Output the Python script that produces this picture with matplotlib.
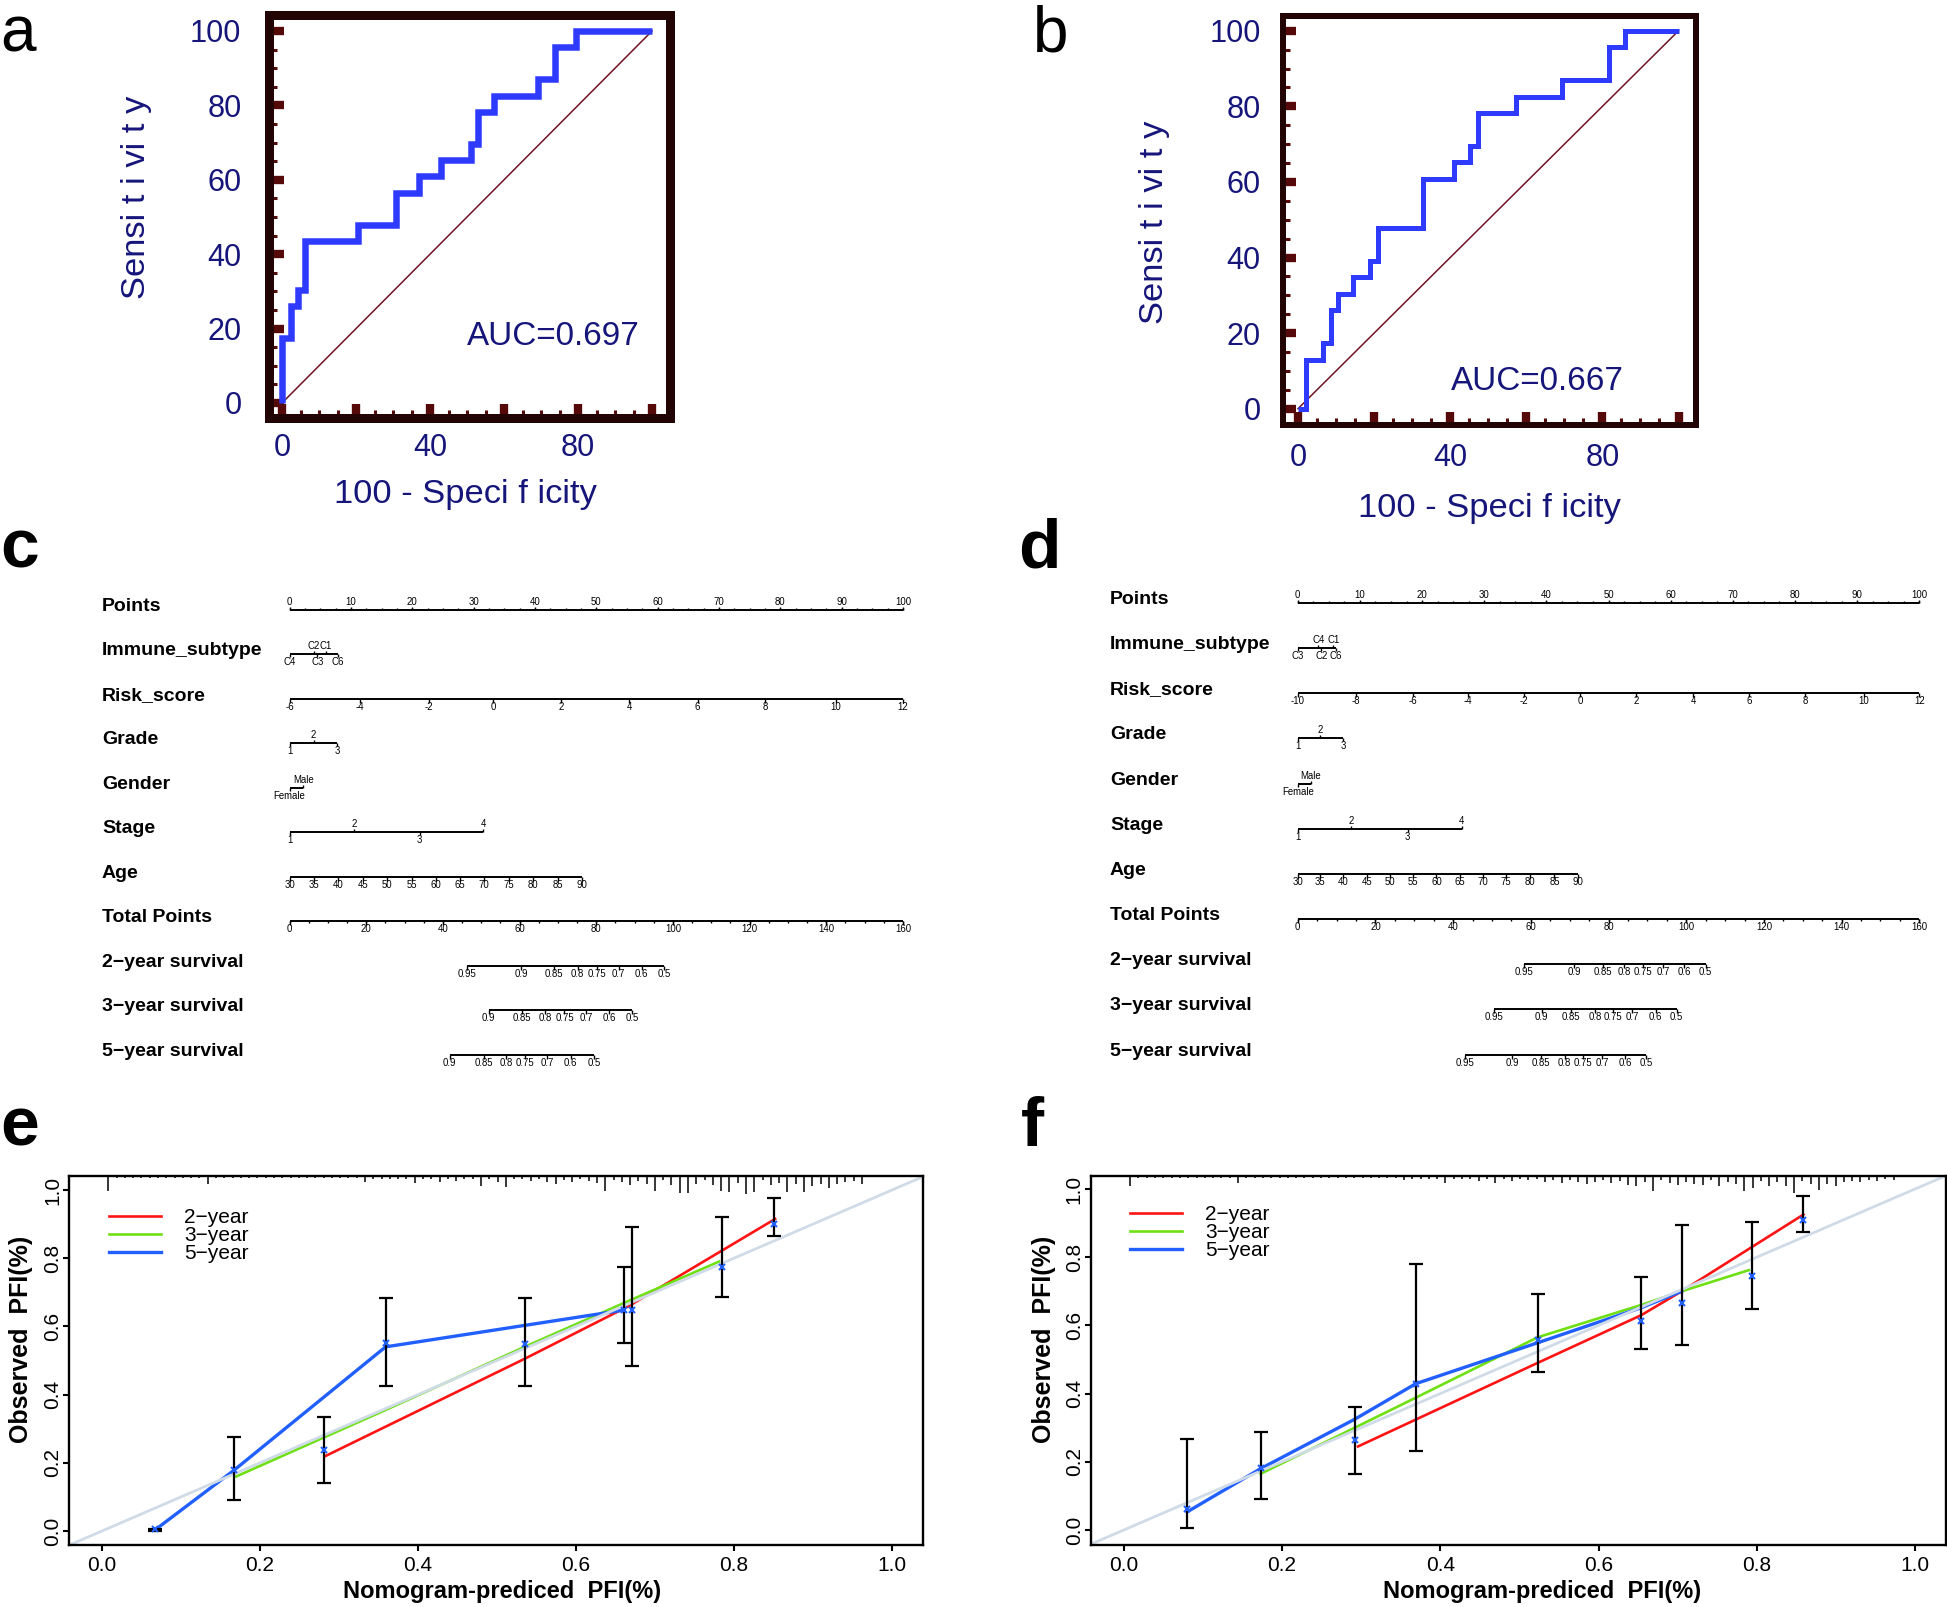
import numpy as np
import matplotlib
matplotlib.use('Agg')
import matplotlib.pyplot as plt
from matplotlib import font_manager as fm
from matplotlib import transforms as mtrans
from matplotlib.ticker import MultipleLocator


def _has(name):
    try:
        fm.findfont(fm.FontProperties(family=name), fallback_to_default=False)
        return True
    except Exception:
        return False


SANS = 'Liberation Sans' if _has('Liberation Sans') else 'DejaVu Sans'
HAS_NARROW = _has('Liberation Sans Narrow')
NARROW = 'Liberation Sans Narrow' if HAS_NARROW else SANS
NS = 1.0 if HAS_NARROW else 0.92
plt.rcParams['font.family'] = [SANS, 'DejaVu Sans']

# ====================== DATA ======================
# (a), (b) ROC curves (100 - specificity, sensitivity)
roc_a_fpr = [0, 0, 2.5, 4.3, 6.3, 20.6, 30.8, 37.1, 43.1, 51.1, 53.1, 57.3, 69.3, 73.7, 79.5, 100]
roc_a_tpr = [0, 17.4, 26.1, 30.4, 43.5, 47.8, 56.5, 60.9, 65.2, 69.6, 78.3, 82.6, 87.0, 95.7, 100, 100]
roc_a_auc = 0.697
roc_b_fpr = [0, 2.1, 6.6, 8.6, 10.6, 14.4, 18.9, 20.9, 32.9, 41.0, 45.3, 47.2, 57.4, 69.5, 81.8, 85.9, 100]
roc_b_tpr = [0, 13.0, 17.4, 26.1, 30.4, 34.8, 39.1, 47.8, 60.9, 65.2, 69.6, 78.3, 82.6, 87.0, 95.7, 100, 100]
roc_b_auc = 0.667
roc_ticks = [0, 20, 40, 60, 80, 100]
roc_xticklabels = ['0', '', '40', '', '80', '']
roc_yticklabels = ['0', '20', '40', '60', '80', '100']

# (c), (d) nomograms
row_names = ['Points', 'Immune_subtype', 'Risk_score', 'Grade', 'Gender', 'Stage', 'Age',
             'Total Points', '2\u2212year survival', '3\u2212year survival', '5\u2212year survival']
points_ticks = [0, 10, 20, 30, 40, 50, 60, 70, 80, 90, 100]
total_ticks = [0, 20, 40, 60, 80, 100, 120, 140, 160]
age_labels = [30, 35, 40, 45, 50, 55, 60, 65, 70, 75, 80, 85, 90]

c_immune_lab = ['C4', 'C2', 'C3', 'C1', 'C6']
c_immune_pts = [0, 4.0, 4.5, 5.9, 7.9]
c_risk_lab = [-6, -4, -2, 0, 2, 4, 6, 8, 10, 12]
c_risk_pts = [0, 11.4, 22.7, 33.2, 44.3, 55.4, 66.5, 77.5, 89.0, 100]
c_grade_lab = ['1', '2', '3']
c_grade_pts = [0, 3.9, 7.7]
c_gender_lab = ['Female', 'Male']
c_gender_pts = [0, 2.2]
c_stage_lab = ['1', '2', '3', '4']
c_stage_pts = [0, 10.5, 21.2, 31.6]
c_age_pts = [0, 3.9, 7.9, 11.9, 15.9, 19.9, 23.8, 27.7, 31.7, 35.7, 39.7, 43.7, 47.7]
c_s2_lab = [0.95, 0.9, 0.85, 0.8, 0.75, 0.7, 0.6, 0.5]
c_s2_tot = [46.3, 60.4, 69.0, 75.1, 80.2, 85.8, 91.8, 97.7]
c_s3_lab = [0.9, 0.85, 0.8, 0.75, 0.7, 0.6, 0.5]
c_s3_tot = [51.9, 60.7, 66.6, 71.7, 77.3, 83.4, 89.4]
c_s5_lab = [0.9, 0.85, 0.8, 0.75, 0.7, 0.6, 0.5]
c_s5_tot = [41.8, 50.6, 56.4, 61.5, 67.1, 73.3, 79.4]

d_immune_lab = ['C3', 'C4', 'C2', 'C1', 'C6']
d_immune_pts = [0, 3.3, 3.8, 5.7, 6.1]
d_risk_lab = [-10, -8, -6, -4, -2, 0, 2, 4, 6, 8, 10, 12]
d_risk_pts = [0, 9.4, 18.5, 27.4, 36.4, 45.4, 54.4, 63.6, 72.6, 81.6, 91.1, 100]
d_grade_lab = ['1', '2', '3']
d_grade_pts = [0, 3.6, 7.3]
d_gender_lab = ['Female', 'Male']
d_gender_pts = [0, 2.1]
d_stage_lab = ['1', '2', '3', '4']
d_stage_pts = [0, 8.6, 17.7, 26.4]
d_age_pts = [0, 3.6, 7.3, 11.1, 14.8, 18.5, 22.3, 26.1, 29.8, 33.5, 37.3, 41.3, 45.1]
d_s2_lab = [0.95, 0.9, 0.85, 0.8, 0.75, 0.7, 0.6, 0.5]
d_s2_tot = [58.2, 71.1, 78.5, 84.0, 88.9, 94.1, 99.5, 105.0]
d_s3_lab = [0.95, 0.9, 0.85, 0.8, 0.75, 0.7, 0.6, 0.5]
d_s3_tot = [50.5, 62.8, 70.3, 76.5, 81.2, 86.1, 92.1, 97.5]
d_s5_lab = [0.95, 0.9, 0.85, 0.8, 0.75, 0.7, 0.6, 0.5]
d_s5_tot = [43.1, 55.2, 62.5, 68.7, 73.4, 78.4, 84.3, 89.7]

# (e), (f) calibration curves
calib_labels = ['2\u2212year', '3\u2212year', '5\u2212year']
calib_ticks = [0.0, 0.2, 0.4, 0.6, 0.8, 1.0]

e_2y_x = [0.283, 0.535, 0.667, 0.852]
e_2y_y = [0.220, 0.505, 0.660, 0.915]
e_3y_x = [0.170, 0.359, 0.535, 0.667, 0.781]
e_3y_y = [0.160, 0.355, 0.540, 0.675, 0.790]
e_5y_x = [0.067, 0.167, 0.359, 0.661]
e_5y_y = [0.003, 0.178, 0.540, 0.648]
e_eb_x = [0.067, 0.167, 0.281, 0.359, 0.535, 0.661, 0.671, 0.785, 0.851]
e_eb_y = [0.005, 0.178, 0.239, 0.551, 0.547, 0.649, 0.649, 0.775, 0.901]
e_eb_lo = [0.000, 0.090, 0.142, 0.425, 0.425, 0.551, 0.485, 0.687, 0.864]
e_eb_hi = [0.005, 0.277, 0.335, 0.684, 0.684, 0.773, 0.891, 0.920, 0.976]
e_rug_range = (0.008, 0.962)
e_rug_h = [15, 2, 2, 2, 2, 2, 2, 2, 2, 2, 2, 2, 8,
           2, 2, 2, 2, 2, 2, 2, 2, 2, 2, 2, 2, 2, 2, 2, 2, 2, 2,
           6, 3, 3, 3, 3, 3, 7, 3, 3, 6, 3, 5, 3, 3, 10, 3, 6, 11,
           3, 3, 5, 3, 6, 8, 4, 6, 3, 5, 7, 15, 4, 6, 9, 5, 8, 15, 4, 9, 17, 17, 8, 4, 9,
           15, 16, 7, 18, 16, 4, 9, 7, 16, 8, 16, 10, 8, 12, 8, 6, 5, 8]

f_2y_x = [0.296, 0.523, 0.654, 0.705, 0.859]
f_2y_y = [0.245, 0.490, 0.630, 0.700, 0.925]
f_3y_x = [0.173, 0.292, 0.369, 0.523, 0.654, 0.705, 0.790]
f_3y_y = [0.165, 0.300, 0.388, 0.565, 0.660, 0.700, 0.762]
f_5y_x = [0.080, 0.173, 0.292, 0.369, 0.523, 0.654, 0.705]
f_5y_y = [0.053, 0.180, 0.325, 0.429, 0.549, 0.652, 0.700]
f_eb_x = [0.080, 0.173, 0.292, 0.369, 0.523, 0.654, 0.705, 0.794, 0.859]
f_eb_y = [0.063, 0.183, 0.265, 0.429, 0.558, 0.614, 0.665, 0.746, 0.908]
f_eb_lo = [0.005, 0.092, 0.163, 0.231, 0.463, 0.532, 0.542, 0.648, 0.874]
f_eb_hi = [0.267, 0.286, 0.362, 0.780, 0.692, 0.741, 0.895, 0.903, 0.979]
f_rug_range = (0.008, 0.973)
f_rug_h = [10, 2, 2, 2, 2, 2, 2, 2, 2, 2, 2, 2, 2, 7,
           2, 2, 2, 2, 2, 2, 2, 2, 2, 2, 2, 2, 2, 2, 2, 2, 2, 2, 2,
           4, 3, 3, 3, 3, 7, 3, 3, 3, 5, 3, 7, 3, 5, 3, 4, 3,
           6, 4, 7, 4, 6, 8, 6, 4, 7, 5, 9, 10, 6, 15, 4, 7, 9, 6, 8, 9,
           4, 10, 6, 8, 15, 12, 5, 10, 6, 10, 17, 5, 8, 14, 8, 10, 6, 5, 6, 4, 5, 3, 4]

# ====================== FIGURE ======================
W, H, DPI = 1947, 1607, 100
PX = 72.0 / DPI
fig = plt.figure(figsize=(W / DPI, H / DPI), dpi=DPI)
fig.patch.set_facecolor('white')


def add_box(l, t, r, b):
    return fig.add_axes([l / W, 1 - b / H, (r - l) / W, (b - t) / H])


def px_lim(lo_px, hi_px, v0_px, v1_px, v0, v1):
    k = (v1 - v0) / (v1_px - v0_px)
    return v0 + (lo_px - v0_px) * k, v0 + (hi_px - v0_px) * k


NAVY = '#15157a'
FRAME = '#230404'
TICKC = '#560909'
CURVE = '#2e3bff'
DIAG = '#701425'


def roc_panel(box, x0px, x100px, y0px, y100px, fpr, tpr, auc, auc_xy,
              frame_px, curve_px, maj_len, min_len, ypad, xpad, ylab_xy, xlab_xy):
    l, t, r, b = box
    ax = add_box(l, t, r, b)
    ax.set_xlim(*px_lim(l, r, x0px, x100px, 0, 100))
    ax.set_ylim(*px_lim(b, t, y0px, y100px, 0, 100))
    for s in ax.spines.values():
        s.set_linewidth(frame_px * PX)
        s.set_color(FRAME)
    ax.plot([fpr[0], fpr[-1]], [tpr[0], tpr[-1]], color=DIAG, lw=1.1, zorder=2)
    ax.plot(fpr, tpr, drawstyle='steps-post', color=CURVE, lw=curve_px * PX,
            solid_joinstyle='miter', solid_capstyle='butt', zorder=3)
    ax.set_xticks(roc_ticks)
    ax.set_xticklabels(roc_xticklabels)
    ax.set_yticks(roc_ticks)
    ax.set_yticklabels(roc_yticklabels)
    ax.xaxis.set_minor_locator(MultipleLocator(5))
    ax.yaxis.set_minor_locator(MultipleLocator(5))
    ax.tick_params(which='major', direction='in', length=maj_len * PX, width=6,
                   color=TICKC, labelcolor=NAVY, labelsize=24 * NS, top=False, right=False)
    ax.tick_params(which='minor', direction='in', length=min_len * PX, width=2.2,
                   color=TICKC, top=False, right=False)
    ax.tick_params(axis='y', which='major', pad=ypad)
    ax.tick_params(axis='x', which='major', pad=xpad)
    for lab in ax.get_xticklabels() + ax.get_yticklabels():
        lab.set_family(NARROW)
    ax.text(auc_xy[0], auc_xy[1], 'AUC=%.3f' % auc, ha='left', va='center',
            color=NAVY, fontsize=26 * NS, family=NARROW, zorder=4)
    ax.text(ylab_xy[0], ylab_xy[1], 'Sensi t i vi t y', transform=ax.transAxes,
            rotation=90, ha='center', va='center', color=NAVY, fontsize=27 * NS, family=NARROW)
    ax.text(xlab_xy[0], xlab_xy[1], '100 - Speci f icity', transform=ax.transAxes,
            ha='center', va='center', color=NAVY, fontsize=27 * NS, family=NARROW)
    return ax


roc_panel((268.5, 14.5, 669.5, 417.5), 282, 652, 403, 31, roc_a_fpr, roc_a_tpr, roc_a_auc,
          (50, 18), 9, 6.5, 14.5, 8, 19.5, 11, (-0.328, 0.547), (0.49, -0.192))
roc_panel((1283, 16, 1696, 425), 1298, 1678.5, 408.7, 30.8, roc_b_fpr, roc_b_tpr, roc_b_auc,
          (40.2, 7.3), 6, 5, 13, 7, 16, 13, (-0.312, 0.496), (0.499, -0.203))


# ---------------- nomograms ----------------
def fmt(v):
    return ('%g' % v) if not isinstance(v, str) else v


def nomo_panel(box, p0px, p100px, row0px, steppx, namepx, rows):
    l, t, r, b = box
    ax = add_box(l, t, r, b)
    ax.set_xlim(*px_lim(l, r, p0px, p100px, 0, 100))
    ax.set_ylim((b - row0px) / steppx, (t - row0px) / steppx)
    ax.axis('off')
    up = mtrans.offset_copy(ax.transData, fig=fig, x=0, y=3, units='dots')
    dn = mtrans.offset_copy(ax.transData, fig=fig, x=0, y=-3, units='dots')
    nm = mtrans.offset_copy(ax.transData, fig=fig, x=0, y=3.5, units='dots')
    name_x = px_lim(namepx, namepx, p0px, p100px, 0, 100)[0]
    tfs = 7.5 * NS
    for i, (name, kind, pos, labs) in enumerate(rows):
        ax.text(name_x, i, name, transform=nm, ha='left', va='center',
                fontsize=14, fontweight='bold', color='black')
        ax.plot([min(pos), max(pos)], [i, i], color='black', lw=1.4, solid_capstyle='butt')
        if kind == 'points':
            minor = np.arange(min(pos), max(pos) + 0.01, 2.5)
            ax.plot(minor, [i] * len(minor), ls='none', marker=2, ms=2.0 * PX, mew=1.0, color='black')
            ax.plot(pos, [i] * len(pos), ls='none', marker=2, ms=3.5 * PX, mew=1.0, color='black')
            for p, lab in zip(pos, labs):
                ax.text(p, i, fmt(lab), transform=up, ha='center', va='bottom',
                        fontsize=tfs, family=NARROW)
        elif kind == 'cat':
            order = np.argsort(pos, kind='stable')
            for j, k in enumerate(order):
                above = (j % 2 == 1)
                ax.plot([pos[k]], [i], ls='none', marker=2 if above else 3,
                        ms=3 * PX, mew=1.0, color='black')
                ax.text(pos[k], i, fmt(labs[k]), transform=up if above else dn,
                        ha='center', va='bottom' if above else 'top', fontsize=tfs, family=NARROW)
        else:
            if kind == 'total':
                minor = np.arange(min(pos), max(pos) + 0.01, (pos[1] - pos[0]) / 4)
                ax.plot(minor, [i] * len(minor), ls='none', marker=3, ms=2.5 * PX, mew=1.0, color='black')
            ax.plot(pos, [i] * len(pos), ls='none', marker=3, ms=3.5 * PX, mew=1.0, color='black')
            for p, lab in zip(pos, labs):
                ax.text(p, i, fmt(lab), transform=dn, ha='center', va='top',
                        fontsize=tfs, family=NARROW)
    return ax


def tot2pts(v):
    return [x * 100.0 / total_ticks[-1] for x in v]


c_rows = [
    (row_names[0], 'points', points_ticks, points_ticks),
    (row_names[1], 'cat', c_immune_pts, c_immune_lab),
    (row_names[2], 'cont', c_risk_pts, c_risk_lab),
    (row_names[3], 'cat', c_grade_pts, c_grade_lab),
    (row_names[4], 'cat', c_gender_pts, c_gender_lab),
    (row_names[5], 'cat', c_stage_pts, c_stage_lab),
    (row_names[6], 'cont', c_age_pts, age_labels),
    (row_names[7], 'total', tot2pts(total_ticks), total_ticks),
    (row_names[8], 'cont', tot2pts(c_s2_tot), c_s2_lab),
    (row_names[9], 'cont', tot2pts(c_s3_tot), c_s3_lab),
    (row_names[10], 'cont', tot2pts(c_s5_tot), c_s5_lab),
]
d_rows = [
    (row_names[0], 'points', points_ticks, points_ticks),
    (row_names[1], 'cat', d_immune_pts, d_immune_lab),
    (row_names[2], 'cont', d_risk_pts, d_risk_lab),
    (row_names[3], 'cat', d_grade_pts, d_grade_lab),
    (row_names[4], 'cat', d_gender_pts, d_gender_lab),
    (row_names[5], 'cat', d_stage_pts, d_stage_lab),
    (row_names[6], 'cont', d_age_pts, age_labels),
    (row_names[7], 'total', tot2pts(total_ticks), total_ticks),
    (row_names[8], 'cont', tot2pts(d_s2_tot), d_s2_lab),
    (row_names[9], 'cont', tot2pts(d_s3_tot), d_s3_lab),
    (row_names[10], 'cont', tot2pts(d_s5_tot), d_s5_lab),
]
nomo_panel((60, 575, 960, 1085), 289.6, 903, 609.7, 44.49, 102, c_rows)
nomo_panel((1000, 575, 1947, 1085), 1297.8, 1919.3, 603, 45.16, 1110, d_rows)

# ---------------- calibration ----------------
RED, GREEN, BLUE = '#ff1414', '#6ee014', '#2160ff'
DIAGC = '#d0dbe8'


def calib_panel(box, x0px, x1px, y0px, y1px, series, eb, rug_range, rug_h,
                leg_px, ylab_x, xlab_x):
    l, t, r, b = box
    ax = add_box(l, t, r, b)
    ax.set_xlim(*px_lim(l, r, x0px, x1px, 0, 1))
    ax.set_ylim(*px_lim(b, t, y0px, y1px, 0, 1))
    for s in ax.spines.values():
        s.set_linewidth(1.7)
        s.set_color('black')
    handles = []
    for (xs, ys), col, lw, lab in zip(series, [RED, GREEN, BLUE], [1.9, 1.9, 2.4], calib_labels):
        h, = ax.plot(xs, ys, color=col, lw=lw, zorder=2, label=lab)
        handles.append(h)
    ax.axline((0, 0), slope=1, color=DIAGC, lw=2.0, zorder=2.5)
    ex, ey, elo, ehi = eb
    ey = np.array(ey)
    ax.errorbar(ex, ey, yerr=[ey - np.array(elo), np.array(ehi) - ey], fmt='none',
                ecolor='black', elinewidth=1.6, capsize=5, capthick=1.6, zorder=3)
    ax.plot(ex, ey, ls='none', marker='x', ms=4, mew=1.5, color=BLUE, zorder=4)
    # rug of predicted values along the top
    rpos = np.linspace(rug_range[0], rug_range[1], len(rug_h))
    hpx = np.array(rug_h, dtype=float)
    ax.vlines(rpos, 1 - hpx / (b - t), 1, transform=ax.get_xaxis_transform(),
              color='black', lw=1.1, zorder=3)
    ax.set_xticks(calib_ticks)
    ax.set_xticklabels(['%.1f' % v for v in calib_ticks])
    ax.set_yticks(calib_ticks)
    ax.set_yticklabels(['%.1f' % v for v in calib_ticks])
    ax.tick_params(direction='out', length=4.5, width=1.5, labelsize=15, top=False, right=False)
    ax.tick_params(axis='x', pad=3.5)
    ax.tick_params(axis='y', labelrotation=90, pad=0.5)
    for lab in ax.get_yticklabels():
        lab.set_verticalalignment('center')
    ax.legend(handles=handles, loc='upper left',
              bbox_to_anchor=((leg_px[0] - l) / (r - l), (b - leg_px[1]) / (b - t)),
              frameon=False, borderpad=0, borderaxespad=0, fontsize=15,
              handlelength=2.5, handletextpad=1.1, labelspacing=-0.05)
    ax.text(ylab_x, 0.556, 'Observed  PFI(%)', transform=ax.transAxes, rotation=90,
            ha='center', va='center', fontsize=18, fontweight='bold')
    ax.text(xlab_x, -0.125, 'Nomogram-prediced  PFI(%)', transform=ax.transAxes,
            ha='center', va='center', fontsize=17, fontweight='bold')
    return ax


calib_panel((69, 1176, 923, 1545), 102, 892, 1531, 1190,
            [(e_2y_x, e_2y_y), (e_3y_x, e_3y_y), (e_5y_x, e_5y_y)],
            (e_eb_x, e_eb_y, e_eb_lo, e_eb_hi), e_rug_range, e_rug_h,
            (109, 1208), -0.0562, 0.507)
calib_panel((1090.6, 1176, 1945.5, 1545), 1123.8, 1915, 1530, 1189,
            [(f_2y_x, f_2y_y), (f_3y_x, f_3y_y), (f_5y_x, f_5y_y)],
            (f_eb_x, f_eb_y, f_eb_lo, f_eb_hi), f_rug_range, f_rug_h,
            (1130, 1205.5), -0.055, 0.528)


# ---------------- panel letters ----------------
def letter(xpx, base_px, s, bold):
    fig.text(xpx / W, 1 - base_px / H, s, ha='left', va='baseline',
             fontsize=(50 if bold else 50 * NS), fontweight='bold' if bold else 'normal',
             family=SANS if bold else NARROW)


letter(0, 52, 'a', False)
letter(1033, 52, 'b', False)
letter(0, 567, 'c', True)
letter(1018, 567, 'd', True)
letter(0, 1146, 'e', True)
letter(1021, 1146, 'f', True)

fig.savefig('out.png', dpi=DPI)
